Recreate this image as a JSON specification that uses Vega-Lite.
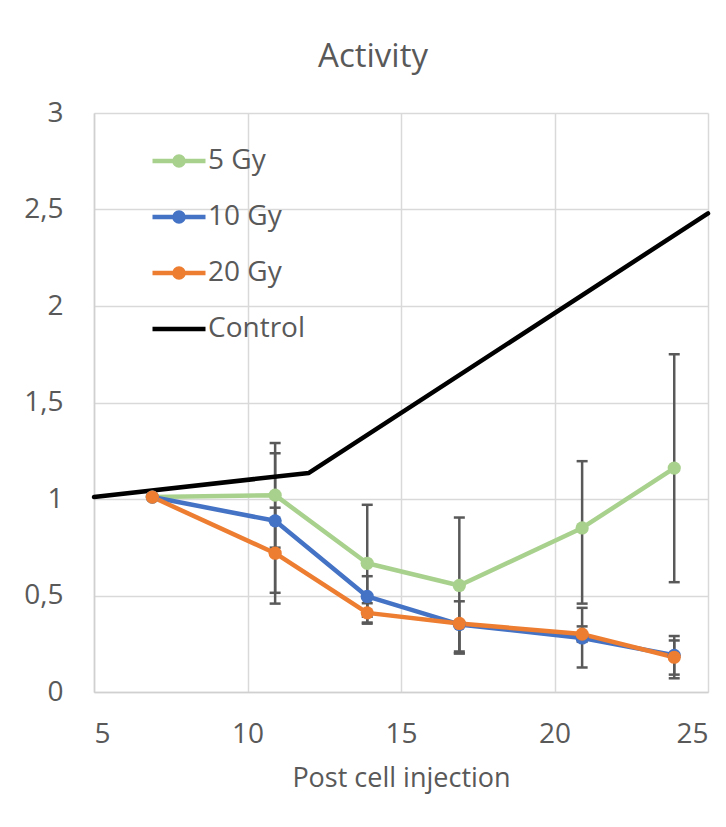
{
  "$schema": "https://vega.github.io/schema/vega-lite/v6.json",
  "width": 614,
  "height": 579,
  "autosize": {"type": "none"},
  "padding": {"left": 94, "top": 113, "right": 18, "bottom": 135},
  "background": "white",
  "title": {"text": "Activity", "font": "Open Sans", "fontSize": 33, "fontWeight": "normal", "color": "#595959", "anchor": "middle", "offset": 25, "dx": -28},
  "config": {
    "view": {"stroke": null},
    "axis": {"gridColor": "#D9D9D9", "gridWidth": 1.5, "domainColor": "#D0D0D0", "domainWidth": 1.5, "ticks": false, "labelFont": "Open Sans", "labelFontSize": 28, "labelColor": "#595959", "titleFont": "Open Sans", "titleFontSize": 27, "titleFontWeight": "normal", "titleColor": "#595959"}
  },
  "data": {"values": [
    {"series": "5 Gy", "x": 6.9, "y": 1.01, "lo": null, "hi": null},
    {"series": "5 Gy", "x": 10.9, "y": 1.02, "lo": 0.748, "hi": 1.29},
    {"series": "5 Gy", "x": 13.9, "y": 0.667, "lo": 0.36, "hi": 0.97},
    {"series": "5 Gy", "x": 16.9, "y": 0.552, "lo": 0.2, "hi": 0.904},
    {"series": "5 Gy", "x": 20.9, "y": 0.85, "lo": 0.458, "hi": 1.196},
    {"series": "5 Gy", "x": 23.9, "y": 1.16, "lo": 0.569, "hi": 1.75},
    {"series": "10 Gy", "x": 6.9, "y": 1.01, "lo": null, "hi": null},
    {"series": "10 Gy", "x": 10.9, "y": 0.887, "lo": 0.514, "hi": 1.237},
    {"series": "10 Gy", "x": 13.9, "y": 0.495, "lo": 0.39, "hi": 0.6},
    {"series": "10 Gy", "x": 16.9, "y": 0.35, "lo": 0.21, "hi": 0.47},
    {"series": "10 Gy", "x": 20.9, "y": 0.28, "lo": 0.127, "hi": 0.436},
    {"series": "10 Gy", "x": 23.9, "y": 0.19, "lo": 0.09, "hi": 0.29},
    {"series": "20 Gy", "x": 6.9, "y": 1.01, "lo": null, "hi": null},
    {"series": "20 Gy", "x": 10.9, "y": 0.719, "lo": 0.458, "hi": 0.955},
    {"series": "20 Gy", "x": 13.9, "y": 0.41, "lo": 0.354, "hi": 0.46},
    {"series": "20 Gy", "x": 16.9, "y": 0.355, "lo": 0.2, "hi": 0.36},
    {"series": "20 Gy", "x": 20.9, "y": 0.3, "lo": 0.26, "hi": 0.34},
    {"series": "20 Gy", "x": 23.9, "y": 0.18, "lo": 0.071, "hi": 0.267},
    {"series": "Control", "x": 5, "y": 1.01, "lo": null, "hi": null},
    {"series": "Control", "x": 12, "y": 1.135, "lo": null, "hi": null},
    {"series": "Control", "x": 25, "y": 2.48, "lo": null, "hi": null}
  ]},
  "layer": [
    {
      "transform": [{"filter": "datum.lo != null"}],
      "mark": {"type": "rule", "color": "#595959", "strokeWidth": 2.5},
      "encoding": {
        "x": {"field": "x", "type": "quantitative"},
        "y": {"field": "lo", "type": "quantitative"},
        "y2": {"field": "hi"}
      }
    },
    {
      "transform": [{"filter": "datum.lo != null"}],
      "mark": {"type": "tick", "orient": "horizontal", "color": "#595959", "size": 11, "thickness": 2.5, "opacity": 1},
      "encoding": {
        "x": {"field": "x", "type": "quantitative"},
        "y": {"field": "lo", "type": "quantitative"}
      }
    },
    {
      "transform": [{"filter": "datum.lo != null"}],
      "mark": {"type": "tick", "orient": "horizontal", "color": "#595959", "size": 11, "thickness": 2.5, "opacity": 1},
      "encoding": {
        "x": {"field": "x", "type": "quantitative"},
        "y": {"field": "hi", "type": "quantitative"}
      }
    },
    {
      "mark": {"type": "line", "strokeWidth": 4.5, "strokeCap": "round", "strokeJoin": "round"},
      "encoding": {
        "x": {"field": "x", "type": "quantitative", "scale": {"domain": [5, 25], "nice": false, "zero": false},
              "axis": {"values": [5, 10, 15, 20, 25], "title": "Post cell injection", "labelPadding": 28, "titlePadding": 17}},
        "y": {"field": "y", "type": "quantitative", "scale": {"domain": [0, 3], "nice": false},
              "axis": {"values": [0, 0.5, 1, 1.5, 2, 2.5, 3], "title": null, "labelPadding": 31, "labelExpr": "replace(format(datum.value, '.1~f'), '.', ',')"}},
        "color": {"field": "series", "type": "nominal",
          "scale": {"domain": ["5 Gy", "10 Gy", "20 Gy", "Control"], "range": ["#A9D18E", "#4472C4", "#ED7D31", "#000000"]},
          "legend": {
            "orient": "none", "legendX": 56, "legendY": 19, "title": null, "padding": 0,
            "labelFont": "Open Sans", "labelFontSize": 28, "labelColor": "#595959", "labelOffset": 0,
            "symbolSize": 2809, "symbolStrokeWidth": 4.5, "rowPadding": 13,
            "symbolType": "M-1,0H1",
            "encode": {
              "symbols": {"update": {
                "shape": {"signal": "datum.value === 'Control' ? 'M-1,0H1' : 'M-1,0H1M0.17,0A0.17,0.17,0,1,1,-0.17,0A0.17,0.17,0,1,1,0.17,0Z'"},
                "fill": {"scale": "color", "field": "value"},
                "stroke": {"scale": "color", "field": "value"},
                "strokeWidth": {"value": 4.5},
                "opacity": {"value": 1}
              }}
            }
          }
        },
        "order": {"field": "x"}
      }
    },
    {
      "transform": [{"filter": "datum.series != 'Control'"}],
      "mark": {"type": "point", "filled": true, "size": 175, "opacity": 1},
      "encoding": {
        "x": {"field": "x", "type": "quantitative"},
        "y": {"field": "y", "type": "quantitative"},
        "color": {"field": "series", "type": "nominal"}
      }
    }
  ]
}
